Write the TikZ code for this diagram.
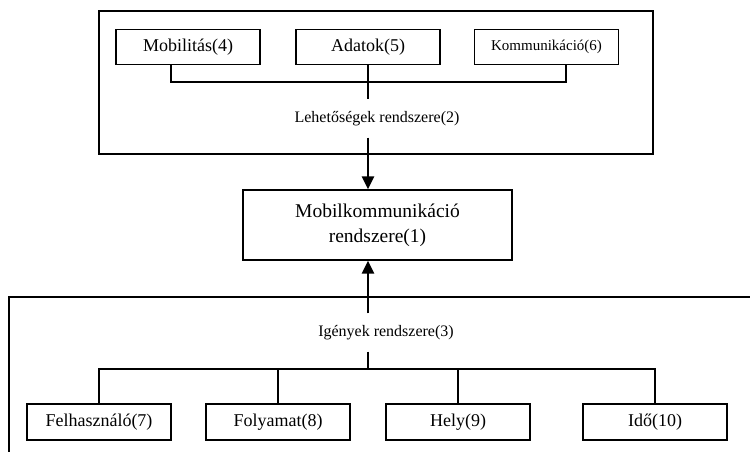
\documentclass[tikz,border=0pt]{standalone}
\usepackage{fontspec}
\setmainfont{Liberation Serif}
\usetikzlibrary{arrows.meta, positioning}

\begin{document}
\begin{tikzpicture}[x=1pt,y=-1pt,>={Triangle[length=13pt,width=12pt]},
  line width=1.2pt,
  box/.style={draw,rectangle,minimum width=144pt,minimum height=35pt,inner sep=0pt,
    font=\fontsize{18}{22}\selectfont},
  sys label/.style={inner sep=0pt,minimum height=37pt,font=\fontsize{16}{20}\selectfont},
  trunk/.style={line width=2.6pt}]

  \useasboundingbox (0,0) rectangle (750,452);

  % upper frame
  \draw (99,11) rectangle (653,154);
  \node[box] (4) at (188,47) {Mobilitás(4)};
  \node[box] (5) at (368,47) {Adatok(5)};
  \node[box,font=\fontsize{15}{18}\selectfont] (6) at (546.5,47) {Kommunikáció(6)};
  \node[sys label] (2) at (377,118.5) {Lehetőségek rendszere(2)};
  \coordinate (top bus) at (368,82);
  \coordinate (mob drop) at (171,82);
  \coordinate (kom drop) at (566,82);

  \node[box,minimum width=269pt,minimum height=70pt,align=center,
    font=\fontsize{19.5}{25}\selectfont] (1) at (377.5,225) {Mobilkommunikáció\\rendszere(1)};

  % lower frame, runs off the page
  \draw (750,297) -- (9,297) -- (9,452);
  \node[sys label] (3) at (386,332.5) {Igények rendszere(3)};
  \node[box,minimum height=36pt] (7) at (99,422) {Felhasználó(7)};
  \node[box,minimum height=36pt] (8) at (278,422) {Folyamat(8)};
  \node[box,minimum height=36pt] (9) at (458,422) {Hely(9)};
  \node[box,minimum height=36pt] (10) at (655,422) {Idő(10)};
  \coordinate (low bus) at (368,369);

  \draw (4.south -| mob drop) -- (mob drop) -- (kom drop) -- (6.south -| kom drop);
  \draw (5.south -| top bus) -- (top bus);
  \draw[trunk] (top bus) -- (2.north -| top bus);
  \draw[trunk,->] (2.south -| top bus) -- (1.north -| top bus);

  \draw[trunk,->] (3.north -| low bus) -- (1.south -| low bus);
  \draw[trunk] (3.south -| low bus) -- (low bus);
  \draw (7.north) -- (7.north |- low bus) -- (10.north |- low bus) -- (10.north);
  \draw (8.north) -- (8.north |- low bus);
  \draw (9.north) -- (9.north |- low bus);
\end{tikzpicture}
\end{document}
